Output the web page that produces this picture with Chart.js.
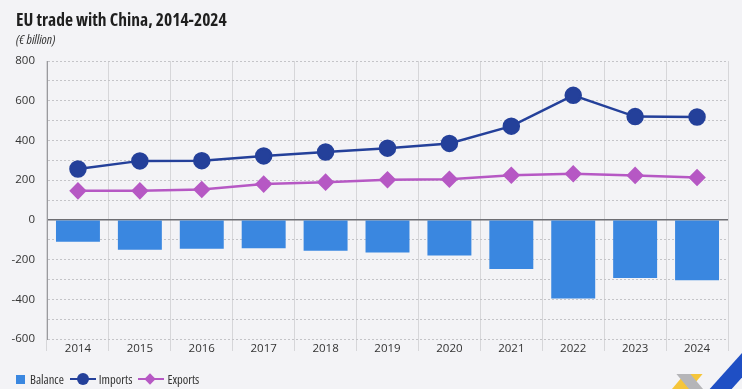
<!DOCTYPE html>
<html><head><meta charset="utf-8">
<script src="https://cdn.jsdelivr.net/npm/chart.js@4.4.1/dist/chart.umd.min.js"></script>
<style>
html,body{margin:0;padding:0;background:#f3f3f6;}
#wrap{position:relative;width:742px;height:389px;overflow:hidden;font-family:"Open Sans","Roboto Condensed",sans-serif;font-stretch:condensed;background:#f3f3f6;}
#title{position:absolute;left:16px;top:7px;font-weight:bold;font-size:17.5px;color:#1f1f1f;white-space:nowrap;}
#sub{position:absolute;left:16px;top:30px;font-style:italic;font-size:13px;color:#333;white-space:nowrap;}
#box{position:absolute;left:0;top:0;width:742px;height:389px;}
#legend{position:absolute;left:16px;top:372px;height:14px;display:flex;align-items:center;font-size:12.5px;color:#333;}
.it{display:flex;align-items:center;margin-right:6px;}
.sq{width:9px;height:9px;background:#3a87e0;margin-right:5px;}
.ln{position:relative;width:26px;height:12px;margin-right:3px;}
.ln .bar{position:absolute;left:0;right:0;top:5px;height:2px;}
.ln .dot{position:absolute;left:7px;top:0px;width:12px;height:12px;border-radius:50%;}
.ln .dia{position:absolute;left:8px;top:2px;width:8px;height:8px;transform:rotate(45deg);}
.logo{position:absolute;}
</style></head>
<body>
<div id="wrap">
  <div id="box"><canvas id="cv"></canvas></div>
  <div id="title">EU trade with China, 2014-2024</div>
  <div id="sub">(€ billion)</div>
  <div id="legend">
    <div class="it"><div class="sq"></div><span>Balance</span></div>
    <div class="it"><div class="ln"><div class="bar" style="background:#24409a"></div><div class="dot" style="background:#24409a"></div></div><span>Imports</span></div>
    <div class="it"><div class="ln"><div class="bar" style="background:#b658c4"></div><div class="dia" style="background:#b658c4"></div></div><span>Exports</span></div>
  </div>
  <div class="logo" style="left:672px;top:374px;width:18px;height:30px;background:#f5c53a;transform:skewX(-40deg);"></div>
  <div class="logo" style="left:689px;top:374px;width:14px;height:30px;background:#b5b5b8;transform:skewX(40deg);"></div>
  <div class="logo" style="left:716px;top:352px;width:22px;height:60px;background:#1f4fc4;transform:skewX(-42deg);"></div>
</div>
<script>
const categories = ["2014","2015","2016","2017","2018","2019","2020","2021","2022","2023","2024"];
const balance = [-110,-150,-145,-143,-155,-165,-180,-247,-396,-293,-304];
const imports = [256,297,298,322,342,361,385,472,627,520,518];
const exports = [146,146,153,180,190,202,205,225,232,224,213];
const yTicksMin = -600, yTicksMax = 800, yStep = 100;

const FONT = "'Open Sans','Roboto Condensed',sans-serif";
const tickFont = { family:FONT, size:11.5, style:'condensed' };

new Chart(document.getElementById('cv'), {
  data: {
    labels: categories,
    datasets: [
      { type:'line', label:'Imports', data: imports, borderColor:'#24409a', backgroundColor:'#24409a',
        borderWidth:2.5, pointRadius:7.5, pointHoverRadius:7.5, pointStyle:'circle', order:1, tension:0 },
      { type:'line', label:'Exports', data: exports, borderColor:'#b658c4', backgroundColor:'#b658c4',
        borderWidth:2.5, pointRadius:7, pointHoverRadius:7, pointStyle:'rectRot', order:2, tension:0 },
      { type:'bar', label:'Balance', data: balance, backgroundColor:'#3a87e0',
        barPercentage:0.71, categoryPercentage:1.0, order:3 }
    ]
  },
  options: {
    responsive:true, maintainAspectRatio:false, animation:false,
    layout:{ padding:{ top:61, left:0, right:14, bottom:30 } },
    plugins:{ legend:{display:false}, title:{display:false}, tooltip:{enabled:false} },
    scales:{
      x:{
        offset:true,
        grid:{ offset:true, color:'#d6d6d9', lineWidth:1, tickLength:12, drawTicks:true, tickColor:'#d6d6d9' },
        border:{ display:false },
        ticks:{ padding:-9, color:'#333', font:tickFont },
        afterFit: s => { s.height = 20; }
      },
      y:{
        min:yTicksMin, max:yTicksMax,
        grid:{ drawTicks:false, color: c => (c.tick && c.tick.value===0) ? '#6e6e73' : '#c4c4c8', lineWidth: c => (c.tick && c.tick.value===0) ? 1.5 : 1 },
        border:{ display:true, color:'#9a9a9e', width:1, dash: c => (c.tick && c.tick.value===0) ? [] : [2,2] },
        ticks:{ stepSize:yStep, padding:12, color:'#333', font:tickFont,
          callback: v => (v % 200 === 0) ? String(v) : '' },
        afterFit: s => { s.width = 47; }
      }
    }
  }
});
</script>
</body></html>
